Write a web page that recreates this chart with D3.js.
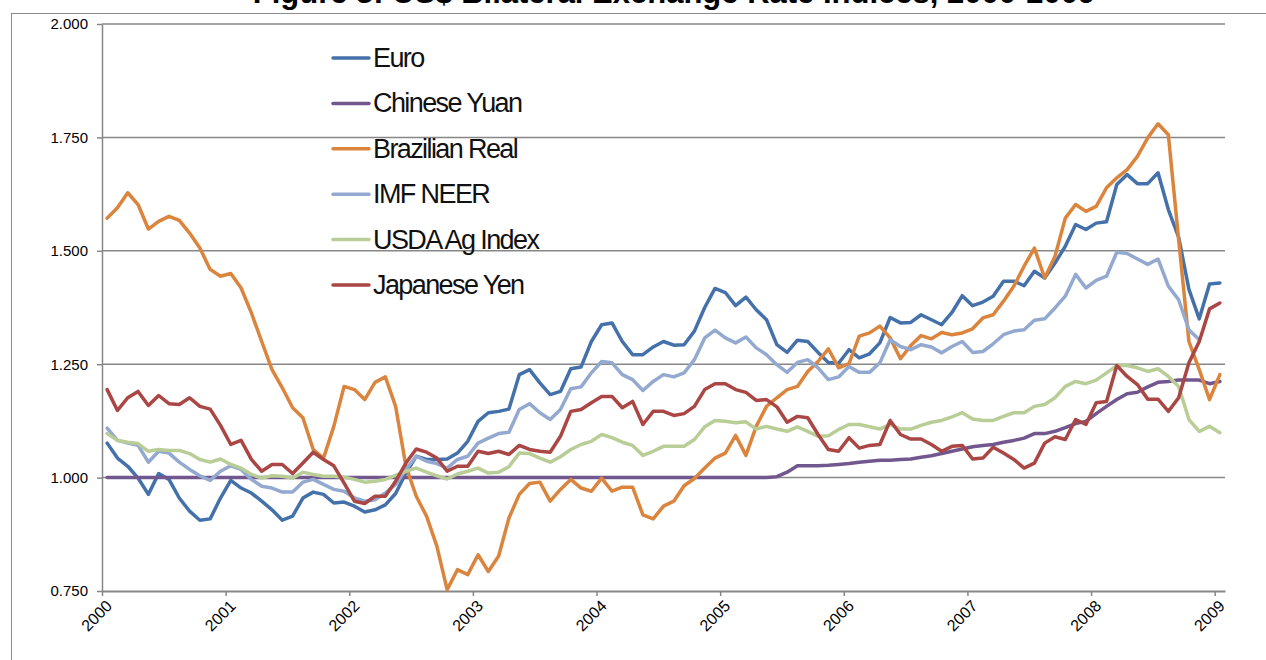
<!DOCTYPE html>
<html>
<head>
<meta charset="utf-8">
<script src="https://cdn.jsdelivr.net/npm/d3@7/dist/d3.min.js"></script>
<style>
  body { margin: 0; background: #fff; }
  svg { display: block; font-family: "Liberation Sans", Arial, sans-serif; }
</style>
</head>
<body>
<div id="chart"></div>
<script>
// monthly index values, Jan 2000 - Jan 2009
const years = ['2000', '2001', '2002', '2003', '2004', '2005', '2006', '2007', '2008', '2009'];
const yTicks = [0.75, 1.0, 1.25, 1.5, 1.75, 2.0];

const euro = [
  1.076, 1.043, 1.025, 0.999, 0.963, 1.009, 0.996, 0.955, 0.926, 0.906,
  0.909, 0.955, 0.994, 0.977, 0.966, 0.948, 0.929, 0.906, 0.915, 0.955,
  0.968, 0.963, 0.944, 0.946, 0.937, 0.924, 0.929, 0.940, 0.965, 1.010,
  1.047, 1.040, 1.040, 1.041, 1.054, 1.080, 1.124, 1.143, 1.146, 1.151,
  1.227, 1.238, 1.209, 1.183, 1.190, 1.240, 1.244, 1.300, 1.337, 1.341,
  1.300, 1.271, 1.271, 1.288, 1.300, 1.292, 1.293, 1.323, 1.375, 1.417,
  1.408, 1.379, 1.398, 1.370, 1.348, 1.293, 1.276, 1.303, 1.300, 1.276,
  1.254, 1.252, 1.282, 1.264, 1.273, 1.297, 1.353, 1.341, 1.342, 1.359,
  1.348, 1.337, 1.364, 1.401, 1.379, 1.387, 1.400, 1.433, 1.433, 1.423,
  1.455, 1.440, 1.473, 1.510, 1.558, 1.547, 1.561, 1.564, 1.646, 1.668,
  1.648, 1.648, 1.672, 1.591, 1.530, 1.415, 1.350, 1.427, 1.429
];

const yuan = [
  1.000, 1.000, 1.000, 1.000, 1.000, 1.000, 1.000, 1.000, 1.000, 1.000,
  1.000, 1.000, 1.000, 1.000, 1.000, 1.000, 1.000, 1.000, 1.000, 1.000,
  1.000, 1.000, 1.000, 1.000, 1.000, 1.000, 1.000, 1.000, 1.000, 1.000,
  1.000, 1.000, 1.000, 1.000, 1.000, 1.000, 1.000, 1.000, 1.000, 1.000,
  1.000, 1.000, 1.000, 1.000, 1.000, 1.000, 1.000, 1.000, 1.000, 1.000,
  1.000, 1.000, 1.000, 1.000, 1.000, 1.000, 1.000, 1.000, 1.000, 1.000,
  1.000, 1.000, 1.000, 1.000, 1.000, 1.002, 1.012, 1.026, 1.026, 1.026,
  1.027, 1.029, 1.031, 1.034, 1.036, 1.038, 1.038, 1.040, 1.041, 1.045,
  1.048, 1.053, 1.058, 1.063, 1.068, 1.071, 1.073, 1.078, 1.082, 1.087,
  1.097, 1.097, 1.102, 1.110, 1.119, 1.124, 1.141, 1.157, 1.172, 1.185,
  1.188, 1.200, 1.210, 1.212, 1.215, 1.215, 1.215, 1.207, 1.212
];

const real = [
  1.572, 1.595, 1.628, 1.602, 1.548, 1.565, 1.576, 1.567, 1.539, 1.506,
  1.459, 1.444, 1.450, 1.418, 1.363, 1.300, 1.238, 1.198, 1.154, 1.132,
  1.062, 1.043, 1.113, 1.201, 1.194, 1.172, 1.210, 1.222, 1.157, 1.025,
  0.959, 0.915, 0.849, 0.753, 0.797, 0.786, 0.830, 0.793, 0.827, 0.911,
  0.963, 0.987, 0.990, 0.948, 0.974, 0.996, 0.977, 0.970, 0.999, 0.970,
  0.979, 0.979, 0.918, 0.909, 0.937, 0.948, 0.982, 0.998, 1.021, 1.043,
  1.054, 1.093, 1.049, 1.113, 1.157, 1.176, 1.194, 1.201, 1.234, 1.256,
  1.284, 1.242, 1.251, 1.312, 1.319, 1.334, 1.308, 1.262, 1.291, 1.313,
  1.306, 1.320, 1.315, 1.319, 1.328, 1.352, 1.359, 1.389, 1.422, 1.466,
  1.506, 1.440, 1.488, 1.572, 1.602, 1.587, 1.598, 1.639, 1.661, 1.679,
  1.708, 1.749, 1.780, 1.756, 1.525, 1.300, 1.238, 1.172, 1.227
];

// IMF series stops two months earlier (Nov 2008)
const neer = [
  1.109, 1.082, 1.076, 1.071, 1.034, 1.058, 1.054, 1.034, 1.018, 1.004,
  0.994, 1.014, 1.026, 1.018, 0.996, 0.981, 0.977, 0.968, 0.968, 0.990,
  0.996, 0.985, 0.974, 0.970, 0.955, 0.948, 0.951, 0.966, 0.985, 1.018,
  1.047, 1.036, 1.031, 1.021, 1.040, 1.047, 1.076, 1.087, 1.097, 1.100,
  1.150, 1.163, 1.143, 1.128, 1.150, 1.196, 1.200, 1.231, 1.256, 1.253,
  1.227, 1.216, 1.192, 1.212, 1.227, 1.222, 1.231, 1.260, 1.308, 1.325,
  1.308, 1.297, 1.310, 1.286, 1.271, 1.249, 1.232, 1.254, 1.260, 1.242,
  1.216, 1.222, 1.245, 1.232, 1.232, 1.253, 1.304, 1.289, 1.282, 1.293,
  1.288, 1.275, 1.289, 1.300, 1.276, 1.278, 1.295, 1.315, 1.323, 1.326,
  1.347, 1.350, 1.374, 1.400, 1.448, 1.418, 1.435, 1.444, 1.497, 1.494,
  1.482, 1.470, 1.482, 1.422, 1.392, 1.326, 1.304
];

const usda = [
  1.097, 1.082, 1.078, 1.075, 1.058, 1.062, 1.060, 1.060, 1.053, 1.040,
  1.034, 1.041, 1.029, 1.021, 1.007, 0.999, 1.004, 1.003, 0.999, 1.012,
  1.007, 1.003, 1.003, 1.001, 0.996, 0.990, 0.992, 0.996, 1.005, 1.014,
  1.021, 1.012, 1.004, 0.997, 1.008, 1.014, 1.021, 1.010, 1.012, 1.024,
  1.054, 1.053, 1.043, 1.034, 1.046, 1.062, 1.073, 1.080, 1.095, 1.088,
  1.078, 1.071, 1.049, 1.058, 1.069, 1.069, 1.069, 1.084, 1.112, 1.126,
  1.124, 1.121, 1.123, 1.107, 1.113, 1.107, 1.102, 1.112, 1.102, 1.091,
  1.092, 1.106, 1.117, 1.117, 1.112, 1.107, 1.117, 1.107, 1.107, 1.115,
  1.122, 1.126, 1.134, 1.143, 1.129, 1.126, 1.126, 1.135, 1.143, 1.143,
  1.157, 1.161, 1.176, 1.201, 1.212, 1.207, 1.215, 1.231, 1.247, 1.247,
  1.242, 1.234, 1.240, 1.223, 1.201, 1.128, 1.102, 1.113, 1.099
];

const yen = [
  1.194, 1.148, 1.176, 1.190, 1.159, 1.181, 1.163, 1.161, 1.176, 1.157,
  1.151, 1.115, 1.073, 1.082, 1.040, 1.014, 1.029, 1.029, 1.009, 1.032,
  1.056, 1.040, 1.026, 0.988, 0.948, 0.943, 0.959, 0.959, 0.992, 1.032,
  1.063, 1.056, 1.043, 1.014, 1.025, 1.025, 1.058, 1.053, 1.058, 1.051,
  1.071, 1.062, 1.058, 1.056, 1.091, 1.146, 1.150, 1.165, 1.179, 1.179,
  1.154, 1.168, 1.117, 1.146, 1.146, 1.137, 1.141, 1.157, 1.194, 1.207,
  1.207, 1.194, 1.188, 1.170, 1.172, 1.156, 1.122, 1.135, 1.132, 1.095,
  1.062, 1.058, 1.088, 1.065, 1.071, 1.073, 1.126, 1.095, 1.085, 1.085,
  1.073, 1.058, 1.069, 1.071, 1.041, 1.043, 1.067, 1.054, 1.040, 1.021,
  1.032, 1.076, 1.090, 1.084, 1.128, 1.117, 1.165, 1.168, 1.247, 1.223,
  1.205, 1.173, 1.173, 1.146, 1.176, 1.253, 1.300, 1.372, 1.385
];

const seriesNames = ['Euro', 'Chinese Yuan', 'Brazilian Real', 'IMF NEER', 'USDA Ag Index', 'Japanese Yen'];
const seriesColors = ['#4471aa', '#72578f', '#db843d', '#93a9cf', '#b9cd96', '#aa4643'];
const seriesValues = [euro, yuan, real, neer, usda, yen];

const series = seriesNames.map((name, k) => ({ name: name, color: seriesColors[k], values: seriesValues[k] }));

const width = 1266;
const height = 660;
const plot = { left: 102, right: 1225, top: 24, bottom: 591 };
const nMonths = euro.length;

const svg = d3.select('#chart')
  .append('svg')
  .attr('width', width)
  .attr('height', height);

// outer frame of the chart area (runs off the page right and bottom)
svg.append('rect')
  .attr('x', 11.5).attr('y', 13.5)
  .attr('width', 1400).attr('height', 800)
  .attr('fill', 'none')
  .attr('stroke', '#8c8c8c')
  .attr('stroke-width', 1);

// title, clipped at the top edge like the source
svg.append('text')
  .attr('x', 674)
  .attr('y', 3)
  .attr('text-anchor', 'middle')
  .attr('font-weight', 'bold')
  .attr('font-size', 31)
  .attr('fill', '#000')
  .text('Figure 3: US$ Bilateral Exchange Rate Indices, 2000-2009');

// scales
const x = d3.scalePoint()
  .domain(d3.range(nMonths))
  .range([plot.left, plot.right])
  .padding(0.5);
const xb = d3.scaleLinear()   // category boundaries, for tick marks
  .domain([0, nMonths])
  .range([plot.left, plot.right]);
const y = d3.scaleLinear()
  .domain([0.75, 2.0])
  .range([plot.bottom, plot.top]);

// gridlines
svg.append('g')
  .selectAll('line')
  .data(yTicks.slice(1))
  .join('line')
  .attr('x1', plot.left).attr('x2', plot.right)
  .attr('y1', d => y(d)).attr('y2', d => y(d))
  .attr('stroke', '#878787')
  .attr('stroke-width', 1.5);

// y axis
const gy = svg.append('g')
  .attr('transform', `translate(${plot.left},0)`)
  .call(d3.axisLeft(y).tickValues(yTicks).tickFormat(d3.format('.3f')).tickSize(5).tickSizeOuter(0).tickPadding(9));
gy.select('.domain').attr('stroke', '#878787').attr('stroke-width', 1.5);
gy.selectAll('.tick line').attr('stroke', '#878787').attr('stroke-width', 1.5);
gy.selectAll('.tick text')
  .attr('font-size', 15)
  .attr('font-family', '"Liberation Sans", Arial, sans-serif')
  .attr('fill', '#000');

// x axis: tick marks between categories, year labels on January
const gx = svg.append('g')
  .attr('transform', `translate(0,${plot.bottom})`)
  .call(d3.axisBottom(xb).tickValues(d3.range(0, nMonths, 12)).tickFormat('').tickSize(5).tickSizeOuter(0));
gx.select('.domain').attr('stroke', '#878787').attr('stroke-width', 2);
gx.selectAll('.tick line').attr('stroke', '#878787').attr('stroke-width', 1.5);

svg.append('g')
  .selectAll('text')
  .data(years)
  .join('text')
  .attr('transform', (d, k) => `translate(${x(k * 12) + 6},${plot.bottom + 16}) rotate(-45)`)
  .attr('text-anchor', 'end')
  .attr('font-size', 16)
  .attr('fill', '#000')
  .text(d => d);

// lines
const line = d3.line()
  .x((d, i) => x(i))
  .y(d => y(d));

svg.append('g')
  .selectAll('path')
  .data(series)
  .join('path')
  .attr('d', d => line(d.values))
  .attr('fill', 'none')
  .attr('stroke', d => d.color)
  .attr('stroke-width', 3.5)
  .attr('stroke-linejoin', 'round')
  .attr('stroke-linecap', 'round');

// legend
const legend = svg.append('g')
  .attr('transform', 'translate(333,58)');

const item = legend.selectAll('g')
  .data(series)
  .join('g')
  .attr('transform', (d, k) => `translate(0,${k * 45.4})`);

item.append('line')
  .attr('x1', 0).attr('x2', 36)
  .attr('stroke', d => d.color)
  .attr('stroke-width', 3.5)
  .attr('stroke-linecap', 'round');

item.append('text')
  .attr('x', 40)
  .attr('y', 9)
  .attr('font-size', 27)
  .attr('letter-spacing', -1.6)
  .attr('fill', '#111')
  .text(d => d.name);
</script>
</body>
</html>
